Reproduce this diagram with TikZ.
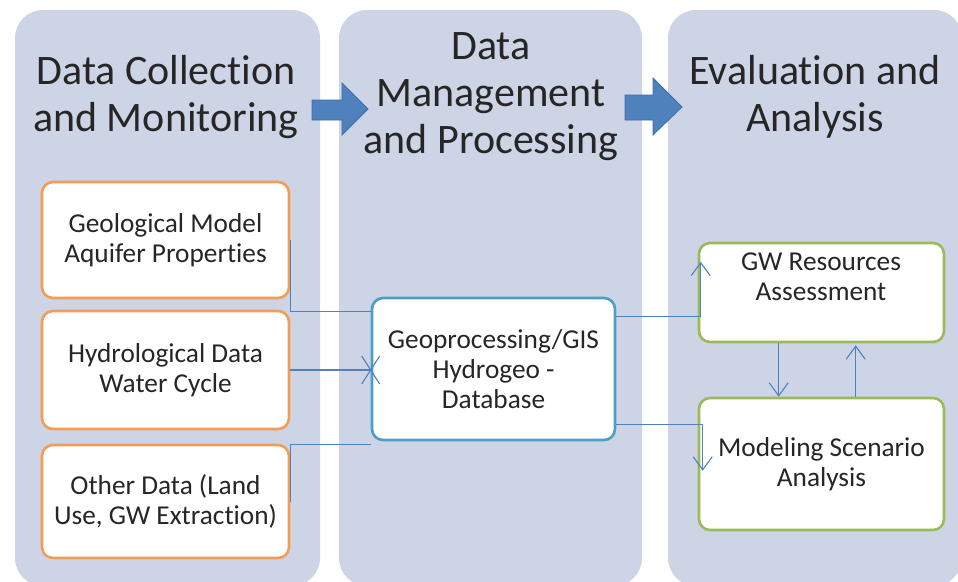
\documentclass[tikz,border=0pt]{standalone}
\usepackage{fontspec}
\setmainfont{Carlito}[Ligatures={NoCommon}]
\usetikzlibrary{calc,arrows.meta}
\definecolor{colfill}{HTML}{CDD4E6}
\definecolor{orangeb}{HTML}{F39C55}
\definecolor{tealb}{HTML}{4A9FC4}
\definecolor{greenb}{HTML}{9BBB59}
\definecolor{connc}{HTML}{4F81BD}
\definecolor{arrfill}{HTML}{4F81BD}
\definecolor{arrdraw}{HTML}{3F6FA8}
\definecolor{txt}{HTML}{262626}
\tikzset{
  column/.style={fill=colfill, draw=none, rounded corners=28pt},
  title/.style={align=center, inner sep=0pt, text=txt, font=\fontsize{42}{47}\selectfont},
  boxbase/.style={draw, line width=2.6pt, fill=white, rounded corners=11pt, align=center,
    text=txt, font=\fontsize{27.3}{30}\selectfont, inner sep=0pt},
  obox/.style={boxbase, draw=orangeb, minimum width=247pt},
  tbox/.style={boxbase, draw=tealb},
  gbox/.style={boxbase, draw=greenb, minimum width=245pt},
  conn/.style={draw=connc, line width=1.1pt},
  tip/.style={-{Straight Barb[length=13pt,width=19pt,line width=1.1pt]}},
  bigarrow/.style={fill=arrfill, draw=arrdraw, line width=0.8pt}
}
\begin{document}
\begin{tikzpicture}[x=1pt,y=-1pt]
\useasboundingbox (0,0) rectangle (958,581);
\fill[white] (0,0) rectangle (958,581);
% columns
\path[column] (15,10) rectangle (320,586);
\path[column] (339,10) rectangle (642,586);
\path[column] (668,10) rectangle (962,586);
% titles
\node[title] (t1) at (166,97) {Data Collection\\and Monitoring};
\node[title] (t2) at (491,97) {Data\\Management\\and Processing};
\node[title] (t3) at (815,97) {Evaluation and\\Analysis};
% big arrows
\draw[bigarrow] (312,100) -- (342,100) -- (342,83) -- (368,109) -- (342,135) -- (342,120) -- (312,120) -- cycle;
\draw[bigarrow] (625,95) -- (653,95) -- (653,78) -- (682,107) -- (653,135) -- (653,120) -- (625,120) -- cycle;
% boxes
\node[obox, minimum height=116pt] (b1) at (165.5,240) {Geological Model\\Aquifer Properties};
\node[obox, minimum height=118pt] (b2) at (165.5,370) {Hydrological Data\\Water Cycle};
\node[obox, minimum height=113pt] (b3) at (165.5,501.5) {Other Data (Land\\Use, GW Extraction)};
\node[tbox, minimum width=243pt, minimum height=142pt] (gis) at (493.5,369) {Geoprocessing/GIS\\Hydrogeo -\\Database};
\node[gbox, minimum height=99pt] (gw) at (821.5,292.5) {};
\node[align=center, text=txt, font=\fontsize{27.3}{30}\selectfont, inner sep=0pt] (gwt) at (821,277) {GW Resources\\Assessment};
\node[gbox, minimum height=132pt] (mod) at (821.5,464) {Modeling Scenario\\Analysis};
% connectors
\draw[conn] (b1.east) |- ($(gis.north west)+(0,15)$);
\draw[conn] (b2.east) -- (b2.east -| gis.west);
\draw[conn] ($(b2.east -| gis.west)+(-9,-14)$) -- ($(b2.east -| gis.west)+(9,14)$);
\draw[conn] ($(b2.east -| gis.west)+(-9,14)$) -- ($(b2.east -| gis.west)+(9,-14)$);
\draw[conn] (b3.east) |- ($(gis.south west)+(0,3)$);
\draw[conn,tip] ($(gis.north east)+(0,20)$) -| ($(gw.north west)+(3,20)$);
\draw[conn,tip] ($(gis.south east)+(0,-17)$) -| ($(mod.north west)+(5,74)$);
\draw[conn,tip] ($(gw.south west)+(81,0)$) -- ($(mod.north west)+(81,0)$);
\draw[conn,tip] ($(mod.north west)+(158,0)$) -- ($(gw.south west)+(158,2)$);
\end{tikzpicture}
\end{document}
